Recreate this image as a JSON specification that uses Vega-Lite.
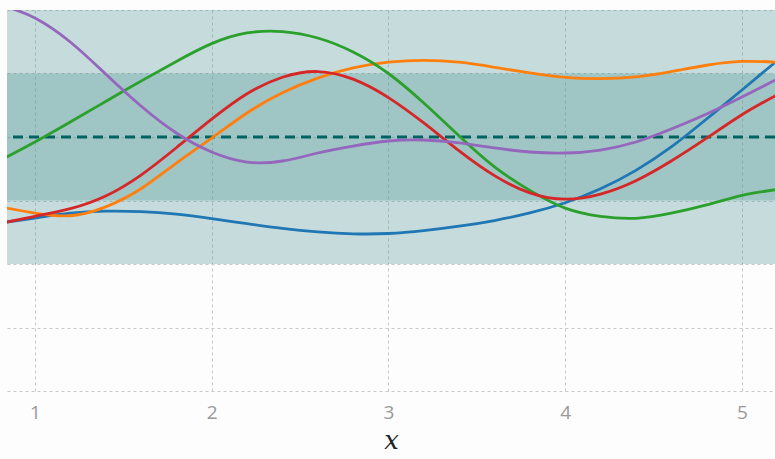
{
  "$schema": "https://vega.github.io/schema/vega-lite/v6.json",
  "width": 768,
  "height": 381,
  "autosize": {"type": "none"},
  "padding": {"left": 7, "top": 10, "right": 0, "bottom": 68},
  "background": "#fdfdfd",
  "config": {
    "view": {"stroke": null},
    "axis": {"gridColor": "#c8c8c8", "gridDash": [3, 3], "gridWidth": 1, "domain": false, "ticks": false}
  },
  "datasets": {
    "bands": [{"lo": -2, "hi": 2}, {"lo": -1, "hi": 1}],
    "curves": [
      {"s": "a", "x": 0.84, "y": -1.339}, {"s": "a", "x": 1.0, "y": -1.276}, {"s": "a", "x": 1.2, "y": -1.2}, {"s": "a", "x": 1.4, "y": -1.168}, {"s": "a", "x": 1.6, "y": -1.175}, {"s": "a", "x": 1.8, "y": -1.215}, {"s": "a", "x": 2.0, "y": -1.285}, {"s": "a", "x": 2.2, "y": -1.365}, {"s": "a", "x": 2.4, "y": -1.44}, {"s": "a", "x": 2.6, "y": -1.495}, {"s": "a", "x": 2.8, "y": -1.525}, {"s": "a", "x": 3.0, "y": -1.52}, {"s": "a", "x": 3.2, "y": -1.475}, {"s": "a", "x": 3.4, "y": -1.405}, {"s": "a", "x": 3.6, "y": -1.315}, {"s": "a", "x": 3.8, "y": -1.195}, {"s": "a", "x": 4.0, "y": -1.035}, {"s": "a", "x": 4.2, "y": -0.815}, {"s": "a", "x": 4.4, "y": -0.525}, {"s": "a", "x": 4.6, "y": -0.157}, {"s": "a", "x": 4.8, "y": 0.283}, {"s": "a", "x": 5.0, "y": 0.74}, {"s": "a", "x": 5.19, "y": 1.181},
      {"s": "b", "x": 0.84, "y": -1.118}, {"s": "b", "x": 1.0, "y": -1.197}, {"s": "b", "x": 1.2, "y": -1.24}, {"s": "b", "x": 1.4, "y": -1.1}, {"s": "b", "x": 1.6, "y": -0.815}, {"s": "b", "x": 1.8, "y": -0.41}, {"s": "b", "x": 2.0, "y": -0.016}, {"s": "b", "x": 2.2, "y": 0.378}, {"s": "b", "x": 2.4, "y": 0.698}, {"s": "b", "x": 2.6, "y": 0.928}, {"s": "b", "x": 2.8, "y": 1.088}, {"s": "b", "x": 3.0, "y": 1.178}, {"s": "b", "x": 3.2, "y": 1.208}, {"s": "b", "x": 3.4, "y": 1.178}, {"s": "b", "x": 3.6, "y": 1.098}, {"s": "b", "x": 3.8, "y": 1.008}, {"s": "b", "x": 4.0, "y": 0.938}, {"s": "b", "x": 4.2, "y": 0.918}, {"s": "b", "x": 4.4, "y": 0.948}, {"s": "b", "x": 4.6, "y": 1.03}, {"s": "b", "x": 4.8, "y": 1.13}, {"s": "b", "x": 5.0, "y": 1.19}, {"s": "b", "x": 5.19, "y": 1.18},
      {"s": "c", "x": 0.84, "y": -0.315}, {"s": "c", "x": 1.0, "y": -0.079}, {"s": "c", "x": 1.2, "y": 0.236}, {"s": "c", "x": 1.4, "y": 0.56}, {"s": "c", "x": 1.6, "y": 0.88}, {"s": "c", "x": 1.8, "y": 1.19}, {"s": "c", "x": 2.0, "y": 1.47}, {"s": "c", "x": 2.2, "y": 1.638}, {"s": "c", "x": 2.4, "y": 1.66}, {"s": "c", "x": 2.6, "y": 1.559}, {"s": "c", "x": 2.8, "y": 1.339}, {"s": "c", "x": 3.0, "y": 1.0}, {"s": "c", "x": 3.2, "y": 0.535}, {"s": "c", "x": 3.4, "y": 0.016}, {"s": "c", "x": 3.6, "y": -0.47}, {"s": "c", "x": 3.8, "y": -0.84}, {"s": "c", "x": 4.0, "y": -1.12}, {"s": "c", "x": 4.2, "y": -1.25}, {"s": "c", "x": 4.4, "y": -1.28}, {"s": "c", "x": 4.6, "y": -1.2}, {"s": "c", "x": 4.8, "y": -1.07}, {"s": "c", "x": 5.0, "y": -0.92}, {"s": "c", "x": 5.19, "y": -0.83},
      {"s": "d", "x": 0.84, "y": -1.339}, {"s": "d", "x": 1.0, "y": -1.249}, {"s": "d", "x": 1.2, "y": -1.129}, {"s": "d", "x": 1.4, "y": -0.929}, {"s": "d", "x": 1.6, "y": -0.599}, {"s": "d", "x": 1.8, "y": -0.169}, {"s": "d", "x": 2.0, "y": 0.281}, {"s": "d", "x": 2.2, "y": 0.681}, {"s": "d", "x": 2.4, "y": 0.941}, {"s": "d", "x": 2.6, "y": 1.031}, {"s": "d", "x": 2.8, "y": 0.911}, {"s": "d", "x": 3.0, "y": 0.621}, {"s": "d", "x": 3.2, "y": 0.221}, {"s": "d", "x": 3.4, "y": -0.219}, {"s": "d", "x": 3.6, "y": -0.609}, {"s": "d", "x": 3.8, "y": -0.879}, {"s": "d", "x": 4.0, "y": -0.979}, {"s": "d", "x": 4.2, "y": -0.899}, {"s": "d", "x": 4.4, "y": -0.689}, {"s": "d", "x": 4.6, "y": -0.379}, {"s": "d", "x": 4.8, "y": -0.019}, {"s": "d", "x": 5.0, "y": 0.351}, {"s": "d", "x": 5.19, "y": 0.651},
      {"s": "e", "x": 0.84, "y": 2.047}, {"s": "e", "x": 1.0, "y": 1.874}, {"s": "e", "x": 1.2, "y": 1.496}, {"s": "e", "x": 1.4, "y": 0.992}, {"s": "e", "x": 1.6, "y": 0.488}, {"s": "e", "x": 1.8, "y": 0.063}, {"s": "e", "x": 2.0, "y": -0.236}, {"s": "e", "x": 2.2, "y": -0.394}, {"s": "e", "x": 2.4, "y": -0.378}, {"s": "e", "x": 2.6, "y": -0.252}, {"s": "e", "x": 2.8, "y": -0.142}, {"s": "e", "x": 3.0, "y": -0.063}, {"s": "e", "x": 3.2, "y": -0.047}, {"s": "e", "x": 3.4, "y": -0.094}, {"s": "e", "x": 3.6, "y": -0.173}, {"s": "e", "x": 3.8, "y": -0.236}, {"s": "e", "x": 4.0, "y": -0.252}, {"s": "e", "x": 4.2, "y": -0.205}, {"s": "e", "x": 4.4, "y": -0.079}, {"s": "e", "x": 4.6, "y": 0.126}, {"s": "e", "x": 4.8, "y": 0.362}, {"s": "e", "x": 5.0, "y": 0.63}, {"s": "e", "x": 5.19, "y": 0.898}
    ]
  },
  "layer": [
    {
      "data": {"name": "curves"},
      "mark": {"type": "line", "opacity": 0},
      "encoding": {
        "x": {"field": "x", "type": "quantitative", "scale": {"domain": [0.842, 5.187], "nice": false, "zero": false},
          "axis": {"values": [1, 2, 3, 4, 5], "format": "d", "grid": true, "title": "x", "titleFont": "DejaVu Serif", "titleFontStyle": "italic", "titleFontWeight": "normal", "titleFontSize": 26, "titleColor": "#222", "titleBaseline": "alphabetic", "titleY": 57, "labelFont": "Open Sans", "labelFontSize": 19, "labelColor": "#999999", "labelPadding": 12}},
        "y": {"field": "y", "type": "quantitative", "scale": {"domain": [-4, 2], "nice": false, "zero": false},
          "axis": {"values": [-4, -3, -2, -1, 0, 1, 2], "grid": true, "labels": false, "title": null}}
      }
    },
    {
      "data": {"name": "bands"},
      "mark": {"type": "rect", "color": "#499393", "opacity": 0.3},
      "encoding": {
        "y": {"field": "lo", "type": "quantitative"},
        "y2": {"field": "hi"}
      }
    },
    {
      "data": {"values": [{"m": 0}]},
      "mark": {"type": "rule", "color": "#006360", "strokeWidth": 3, "strokeDash": [10, 6]},
      "encoding": {"y": {"field": "m", "type": "quantitative"}}
    },
    {
      "data": {"name": "curves"},
      "mark": {"type": "line", "strokeWidth": 2.8, "interpolate": "natural", "clip": true},
      "encoding": {
        "x": {"field": "x", "type": "quantitative"},
        "y": {"field": "y", "type": "quantitative"},
        "color": {"field": "s", "type": "nominal", "legend": null,
          "scale": {"domain": ["a", "b", "c", "d", "e"], "range": ["#1f77b4", "#ff7f0e", "#2ca02c", "#d62728", "#9467bd"]}}
      }
    }
  ]
}
